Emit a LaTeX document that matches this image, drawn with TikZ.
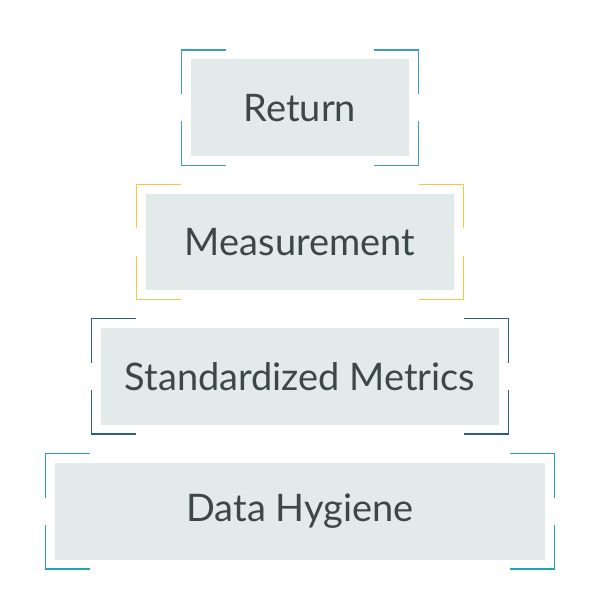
\documentclass[tikz,border=0pt]{standalone}
\usepackage{fontspec}
\setmainfont{Lato}
\usetikzlibrary{calc,positioning}
\definecolor{boxfill}{HTML}{E2EAEA}
\definecolor{inktext}{HTML}{3C4747}
\definecolor{retblue}{HTML}{3A9CC4}
\definecolor{measgold}{HTML}{F6C842}
\definecolor{stdblue}{HTML}{2D5F7D}
\definecolor{hygteal}{HTML}{1FA8A6}
\tikzset{
  tier/.style={fill=boxfill, text=inktext, minimum height=2.42cm, inner sep=0pt,
    font=\fontsize{27}{31}\selectfont},
  corner/.style={line width=1.1pt}
}
\begin{document}
\begin{tikzpicture}
  \useasboundingbox (0,0) rectangle (15,15);

  % the four tiers, top to bottom
  \node[tier, minimum width=5.45cm] (ret) at (7.5,12.31) {Return};
  \node[tier, minimum width=7.7cm] (meas) at (7.5,8.95) {Measurement};
  \node[tier, minimum width=9.95cm] (std) at (7.5,5.59) {Standardized Metrics};
  \node[tier, minimum width=12.25cm] (hyg) at (7.5,2.22) {Data Hygiene};

  % corner brackets round each tier
  \foreach \n/\col in {ret/retblue, meas/measgold, std/stdblue, hyg/hygteal} {
    \draw[corner, \col] ($(\n.north west)+(-0.225,-0.875)$) -- ++(0,1.1) -- ++(1.1,0);
    \draw[corner, \col] ($(\n.north east)+(0.225,-0.875)$) -- ++(0,1.1) -- ++(-1.1,0);
    \draw[corner, \col] ($(\n.south west)+(-0.225,0.875)$) -- ++(0,-1.1) -- ++(1.1,0);
    \draw[corner, \col] ($(\n.south east)+(0.225,0.875)$) -- ++(0,-1.1) -- ++(-1.1,0);
  }
\end{tikzpicture}
\end{document}
